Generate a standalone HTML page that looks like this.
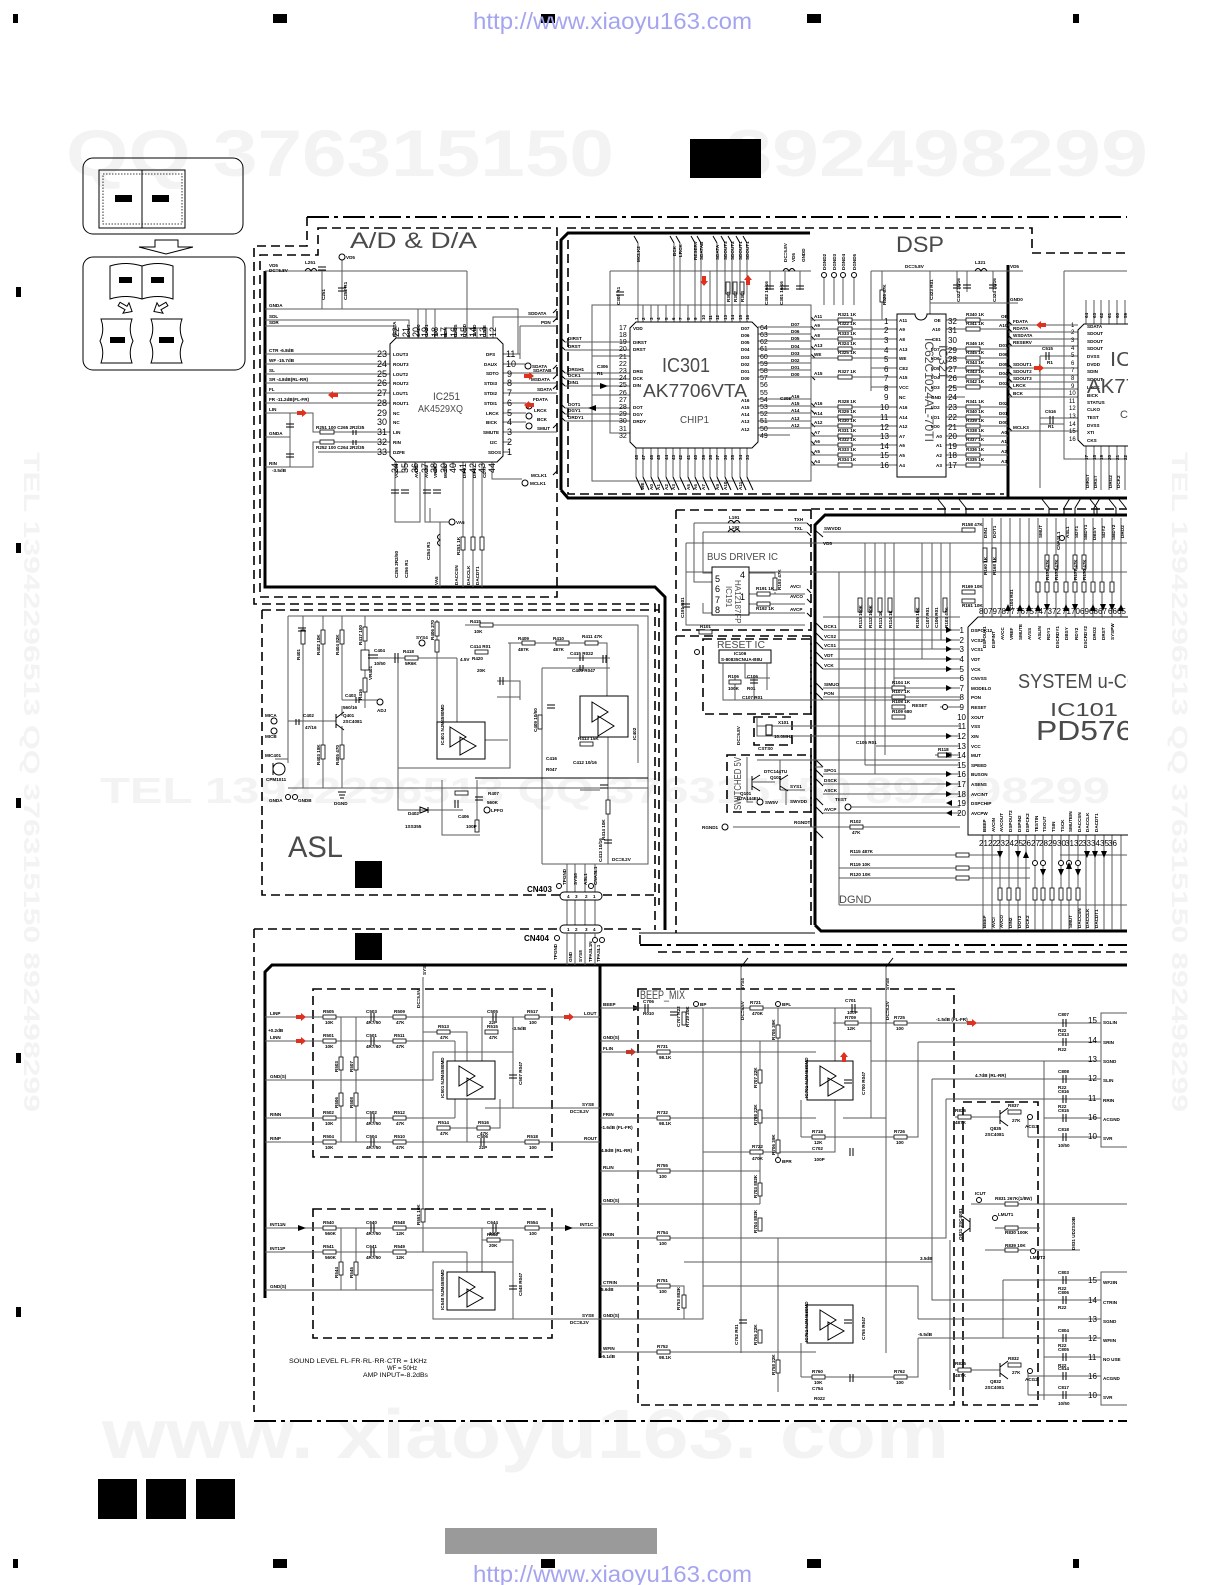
<!DOCTYPE html>
<html><head><meta charset="utf-8"><title>Schematic</title>
<style>
html,body{margin:0;padding:0;background:#fff;}
svg{display:block;}
.w{stroke:#5a5a5a;stroke-width:1;fill:none}
.k{stroke:#000;stroke-width:1;fill:none}
.kf{stroke:#000;stroke-width:1;fill:#fff}
.t{stroke:#000;stroke-width:3;fill:none}
.d{stroke:#000;stroke-width:1.6;fill:none;stroke-dasharray:9 5}
.dd{stroke:#000;stroke-width:2;fill:none;stroke-dasharray:22 5 4 5}
.r{fill:#fff;stroke:#000;stroke-width:.8}
.s{font-family:"Liberation Sans",sans-serif;font-size:4.6px;font-weight:bold;fill:#000}
.m{font-family:"Liberation Sans",sans-serif;font-size:6px;fill:#000}
.n{font-family:"Liberation Sans",sans-serif;font-size:9px;fill:#000}
.nb{font-family:"Liberation Sans",sans-serif;font-size:7px;fill:#000}
.T{font-family:"Liberation Sans",sans-serif;fill:#4a4a4a}
.wm{font-family:"Liberation Sans",sans-serif;font-weight:bold;fill:#f3f3f3}
.ra{fill:#e0301e}
.bk{fill:#000}
</style></head><body>
<svg width="1225" height="1585" viewBox="0 0 1225 1585">
<defs><clipPath id="c"><rect x="0" y="0" width="1128" height="1585"/></clipPath></defs>
<rect x="0" y="0" width="1225" height="1585" fill="#fff"/>

<!-- faint watermarks -->
<text class="wm" x="66" y="176" font-size="66" textLength="548" lengthAdjust="spacingAndGlyphs">QQ 376315150</text>
<text class="wm" x="725" y="176" font-size="66" textLength="423" lengthAdjust="spacingAndGlyphs">892498299</text>
<text class="wm" x="102" y="1458" font-size="70" textLength="847" lengthAdjust="spacingAndGlyphs">www. xiaoyu163. com</text>
<text class="wm" x="100" y="803" font-size="36" textLength="1010" lengthAdjust="spacingAndGlyphs">TEL 13942296513  QQ 376315150  892498299</text>
<text class="wm" transform="translate(1172,452) rotate(90)" font-size="22" textLength="660" lengthAdjust="spacingAndGlyphs">TEL 13942296513 QQ 376315150 892498299</text>
<text class="wm" transform="translate(24,452) rotate(90)" font-size="22" textLength="660" lengthAdjust="spacingAndGlyphs">TEL 13942296513 QQ 376315150 892498299</text>

<!-- registration marks -->
<g class="bk">
<rect x="13" y="14" width="5" height="9"/><rect x="273" y="14" width="14" height="9"/><rect x="541" y="14" width="14" height="9"/><rect x="807" y="14" width="14" height="9"/><rect x="1073" y="14" width="6" height="9"/>
<rect x="13" y="1559" width="5" height="9"/><rect x="273" y="1559" width="14" height="9"/><rect x="541" y="1559" width="14" height="9"/><rect x="807" y="1559" width="14" height="9"/><rect x="1073" y="1559" width="6" height="9"/>
<rect x="16" y="287" width="5" height="10"/><rect x="16" y="543" width="5" height="10"/><rect x="16" y="798" width="5" height="10"/><rect x="16" y="1053" width="5" height="10"/><rect x="16" y="1307" width="5" height="10"/>
<rect x="690" y="139" width="71" height="39"/>
<rect x="98" y="1479" width="39" height="40"/><rect x="146" y="1479" width="40" height="40"/><rect x="196" y="1479" width="39" height="40"/>
<rect x="355" y="861" width="27" height="27"/>
<rect x="355" y="933" width="27" height="27"/>
</g>
<rect x="445" y="1528" width="212" height="26" fill="#9a9a9a"/>
<text x="473" y="29" font-family="Liberation Sans,sans-serif" font-size="23" fill="#a4a4f0" textLength="279" lengthAdjust="spacingAndGlyphs">http://www.xiaoyu163.com</text>
<text x="473" y="1582" font-family="Liberation Sans,sans-serif" font-size="23" fill="#a4a4f0" textLength="279" lengthAdjust="spacingAndGlyphs">http://www.xiaoyu163.com</text>

<!-- key diagram -->
<rect x="83" y="158" width="160" height="76" rx="10" class="k" stroke-width="3"/>
<rect x="99" y="170" width="86" height="58" class="k"/>
<path class="k" d="M142,170V228"/>
<rect x="103" y="174" width="79" height="50" fill="none" stroke="#000" stroke-width=".8" stroke-dasharray="1.5 1.5"/>
<rect x="115" y="195" width="17" height="7" class="bk"/><rect x="152" y="195" width="17" height="7" class="bk"/>
<path class="kf" d="M155,240H178V247H193L166,254L139,247H155Z"/>
<rect x="83" y="257" width="162" height="113" rx="10" class="k" stroke-width="3"/>
<path class="kf" d="M110,266Q126,261 142,266Q158,261 173,266V299Q158,294 142,299Q126,294 110,299Z"/>
<path class="k" d="M142,266V299"/>
<rect x="119" y="277" width="13" height="6" class="bk"/><rect x="151" y="277" width="13" height="6" class="bk"/>
<path class="kf" d="M118,306L126,306L126,302L133,308L126,314L126,310L118,310Z" transform="rotate(30 126 308)"/>
<path class="kf" d="M152,306L160,306L160,302L167,308L160,314L160,310L152,310Z" transform="rotate(150 160 308)"/>
<path class="kf" d="M101,319H132Q128,330 133,341Q128,352 132,363H101Q105,352 100,341Q105,330 101,319Z"/>
<path class="kf" d="M151,319H182Q178,330 183,341Q178,352 182,363H151Q155,352 150,341Q155,330 151,319Z"/>
<rect x="110" y="337" width="15" height="6" class="bk"/><rect x="159" y="337" width="15" height="6" class="bk"/>

<g clip-path="url(#c)">
<!-- ============ main borders ============ -->
<path class="dd" d="M307,217H1127"/>
<path class="d" d="M307,217V246H254V604H655V930 M659,604V905"/>
<path class="d" d="M318,228H557V597H260V255H318Z"/>
<path class="t" d="M265,271V587H655L665,597V930"/>
<path class="d" d="M262,610H659 M262,610V895H560 M603,895H659"/>
<path class="d" d="M254,929H640V945 M254,929V1412"/>
<path class="dd" d="M640,945H1127"/>
<path class="d" d="M658,952H1127"/>
<path class="k" d="M639,933H815"/>
<path class="t" d="M265,1298V972L272,965H1127 M600,965V1358"/>
<path class="dd" d="M254,1421H1127"/>
<!-- DSP frame -->
<path class="t" d="M561,490V240L568,233H810 M561,490L568,498H1127 M1008,265V498"/>
<path class="d" d="M567,228H1032V253H1127 M568,240V494H1004"/>
<path class="d" d="M811,509H1127"/>
<!-- system frame -->
<path class="t" d="M815,925V525L825,515H1127 M815,925L821,931H1127"/>
<path class="d" d="M811,510V930 M676,510H811 M676,510V630H811 M676,636H811 M676,636V933"/>
<path class="d" d="M703,639H811V714H703Z M727,755H811V812H727Z"/>
<path class="d" d="M754,717H792V745H754Z" stroke-width="1"/>
<!-- bottom dashed boxes -->
<path class="d" d="M313,989H552V1157H313Z M313,1209H552V1338H313Z M638,989H954V1405H638Z M963,1102H1038V1405H963Z"/>

<!-- bus taps between sections -->
<path class="k" d="M553,369L557,365 M553,379L557,375 M553,389L557,385 M553,428L557,424 M553,313L557,309 M553,322L557,318 M553,475L557,471 M561,338L565,342 M561,346L565,350 M561,369L565,373 M561,375L565,379 M561,382L565,386 M561,404L565,408 M561,410L565,414 M561,417L565,421 M1008,321L1012,325 M1008,328L1012,332 M1008,335L1012,339 M1008,342L1012,346 M1008,364L1012,368 M1008,371L1012,375 M1008,378L1012,382 M1008,385L1012,389 M1008,392L1012,397 M1008,427L1012,431 M811,317L815,321 M811,326L815,330 M811,336L815,340 M811,346L815,350 M811,354L815,358 M811,376L815,380 M811,403L815,407 M811,410L815,414 M811,423L815,427 M811,432L815,436 M811,441L815,445 M811,451L815,455 M811,461L815,465"/>
<path class="k" d="M937,498L945,508V515 M958,498L966,508V515 M1041,498L1049,508V515 M1089,498L1097,508V515 M1108,498L1116,508V515 M1118,498L1126,508 M1070,498L1064,508V515 M1081,498L1075,508V515 M1100,498L1094,508V515 M815,530L823,537 M815,622L823,630 M815,632L823,640 M815,641L823,649 M815,651L823,659 M815,661L823,669 M815,682L823,690 M815,692L823,700 M815,759L823,767 M815,769L823,777 M815,778L823,786 M815,797L823,805 M815,806L823,814 M815,830L823,838 M807,523L811,527 M807,532L811,536 M807,589L811,593 M807,599L811,603 M807,613L811,617"/>

<!-- ============ A/D & D/A ============ -->
<text class="T" x="350" y="248" font-size="22" textLength="127" lengthAdjust="spacingAndGlyphs">A/D &amp; D/A</text>
<path class="w" d="M265,271H467 M322,271V309 M342,260V309 M265,309H518V354 M265,320H409V338 M265,326H396V338 M418,338V309 M426,338V309 M435,338V309 M445,338V328H487V338 M455,328V338 M467,338V271 M477,328V338 M493,338V317H557 M520,326H557 M520,326V359 M265,354H390 M265,364H390 M265,374H390 M265,383H390 M265,393H390 M265,403H390 M265,413H313V432H390 M290,413V467 M265,437H290 M265,467H313V442H390 M318,452H390 M503,354H520 M503,364H525 M503,373H557 M503,383H557 M503,393H557 M503,403H526 M503,413H526 M503,422H526 M503,432H557 M503,442H510 M503,452H510 M395,462V522H420V472 M405,462V472H395 M415,462V472 M425,462V522H449 M434,462V472 M444,462V472 M453,462V468 M463,462V587 M473,462V587 M482,462V587 M492,462V479H522 M440,522V587 M430,522V508"/>
<path class="kf" d="M396,338H497L503,344V456L497,462H396L390,456V344Z"/>
<g class="k"><path d="M305,271q3,-5 6,0q3,-5 6,0"/><path d="M318,267H326M318,270H326M338,288H346M338,291H346M286,424H294M286,427H294M286,454H294M286,457H294M391,490H399M391,493H399M401,490H409M401,493H409M423,490H431M423,493H431M433,490H441M433,493H441M353,430V435M356,430V435M353,440V445M356,440V445"/></g>
<rect class="r" x="320" y="430" width="14" height="4"/><rect class="r" x="320" y="440" width="14" height="4"/>
<rect class="r" x="461" y="537" width="4" height="13"/><rect class="r" x="471" y="537" width="4" height="13"/><rect class="r" x="480" y="537" width="4" height="13"/>
<path class="k" d="M440,534q-5,3 0,6q-5,3 0,6"/>
<circle cx="342" cy="257" r="3" class="kf"/><circle cx="452" cy="522" r="3" class="kf"/><circle cx="528" cy="366" r="3" class="kf"/><circle cx="529" cy="406" r="3" class="kf"/><circle cx="529" cy="416" r="3" class="kf"/><circle cx="529" cy="426" r="3" class="kf"/><circle cx="525" cy="483" r="3" class="kf"/>
<path class="ra" d="M-6,-2H-1V-4L4,0L-1,4V2H-6Z" transform="translate(303,413)"/>
<path class="ra" d="M-6,-2H-1V-4L4,0L-1,4V2H-6Z" transform="translate(332,395) rotate(180)"/>
<path class="ra" d="M-6,-2H-1V-4L4,0L-1,4V2H-6Z" transform="translate(530,376)"/>
<path class="ra" d="M-6,-2H-1V-4L4,0L-1,4V2H-6Z" transform="translate(528,405) rotate(180)"/>
<g class="s">
<text x="269" y="267">VD5</text><text x="269" y="272">DC=5.8V</text><text x="305" y="264">L251</text><text x="346" y="259">VD5</text>
<text x="269" y="307">GNDA</text><text x="269" y="318">SDL</text><text x="269" y="324">SDR</text>
<text x="269" y="352">CTR  -6.8dB</text><text x="269" y="362">WF  -15.7dB</text><text x="269" y="372">SL</text><text x="269" y="381">SR   -4.8dB(RL-RR)</text><text x="269" y="391">FL</text><text x="269" y="401">FR   -11.2dB(FL-FR)</text><text x="269" y="411">LIN</text><text x="269" y="435">GNDA</text><text x="269" y="465">RIN</text><text x="272" y="472">-3.5dB</text>
<text x="316" y="429">R251 100  C265 2R2/35</text><text x="316" y="449">R252 100  C264 2R2/35</text>
<text x="528" y="315">SDDATA</text><text x="541" y="324">PDN</text><text x="532" y="368">SDATA</text><text x="533" y="372">SDATAB</text><text x="531" y="381">MSDATA</text><text x="537" y="391">SDATA</text><text x="533" y="401">FDATA</text><text x="534" y="412">LRCK</text><text x="537" y="421">BCK</text><text x="537" y="430">SMUT</text><text x="531" y="477">MCLK1</text><text x="530" y="485">MCLK1</text><text x="456" y="524">VA5</text>
<text x="393" y="356">LOUT3</text><text x="393" y="366">ROUT3</text><text x="393" y="376">LOUT2</text><text x="393" y="385">ROUT2</text><text x="393" y="395">LOUT1</text><text x="393" y="405">ROUT1</text><text x="393" y="415">NC</text><text x="393" y="424">NC</text><text x="393" y="434">LIN</text><text x="393" y="444">RIN</text><text x="393" y="454">DZFE</text>
<text x="486" y="356">DFS</text><text x="484" y="366">DAUX</text><text x="486" y="375">SDTO</text><text x="484" y="385">STDI3</text><text x="484" y="395">STDI2</text><text x="484" y="405">STDI1</text><text x="486" y="415">LRCK</text><text x="486" y="424">BICK</text><text x="483" y="434">SMUTE</text><text x="490" y="444">I2C</text><text x="488" y="454">SDOS</text>
</g>
<g class="s">
<text transform="translate(398,578) rotate(-90)">C255 2R2/50</text><text transform="translate(408,578) rotate(-90)">C256 R1</text><text transform="translate(430,560) rotate(-90)">C254 R1</text><text transform="translate(438,585) rotate(-90)">VA5</text><text transform="translate(458,585) rotate(-90)">DACCSN</text><text transform="translate(470,585) rotate(-90)">DACCLK</text><text transform="translate(479,585) rotate(-90)">DACDT1</text><text transform="translate(460,555) rotate(-90)">R251 1K</text><text transform="translate(325,300) rotate(-90)">C251</text><text transform="translate(347,300) rotate(-90)">C252 R1</text>
<text transform="translate(396,337) rotate(-90)">RDATA</text><text transform="translate(410,337) rotate(-90)">LOUT</text><text transform="translate(420,337) rotate(-90)">CAD0</text><text transform="translate(428,337) rotate(-90)">CAD1</text><text transform="translate(437,337) rotate(-90)">TST</text><text transform="translate(447,337) rotate(-90)">PDN</text><text transform="translate(457,337) rotate(-90)">DVSS</text><text transform="translate(466,337) rotate(-90)">DVDD</text><text transform="translate(476,337) rotate(-90)">TVDD</text><text transform="translate(486,337) rotate(-90)">DZFE</text>
<text transform="translate(398,478) rotate(-90)">VCOM</text><text transform="translate(418,478) rotate(-90)">AVDD</text><text transform="translate(428,478) rotate(-90)">AVSS</text><text transform="translate(437,478) rotate(-90)">VREF</text><text transform="translate(447,478) rotate(-90)">MCLK</text><text transform="translate(466,478) rotate(-90)">DIF0</text><text transform="translate(476,478) rotate(-90)">DIF1</text><text transform="translate(486,478) rotate(-90)">CDTI</text>
</g>
<g class="n">
<text x="377" y="357">23</text><text x="377" y="367">24</text><text x="377" y="377">25</text><text x="377" y="386">26</text><text x="377" y="396">27</text><text x="377" y="406">28</text><text x="377" y="416">29</text><text x="377" y="425">30</text><text x="377" y="435">31</text><text x="377" y="445">32</text><text x="377" y="455">33</text>
<text x="506" y="357">11</text><text x="506" y="367">10</text><text x="507" y="377">9</text><text x="507" y="386">8</text><text x="507" y="396">7</text><text x="507" y="406">6</text><text x="507" y="416">5</text><text x="507" y="425">4</text><text x="507" y="435">3</text><text x="507" y="445">2</text><text x="507" y="455">1</text>
<text transform="translate(399,337) rotate(-90)">22</text><text transform="translate(409,337) rotate(-90)">21</text><text transform="translate(419,337) rotate(-90)">20</text><text transform="translate(428,337) rotate(-90)">19</text><text transform="translate(438,337) rotate(-90)">18</text><text transform="translate(447,337) rotate(-90)">17</text><text transform="translate(457,337) rotate(-90)">16</text><text transform="translate(467,337) rotate(-90)">15</text><text transform="translate(476,337) rotate(-90)">14</text><text transform="translate(486,337) rotate(-90)">13</text><text transform="translate(496,337) rotate(-90)">12</text>
<text transform="translate(398,473) rotate(-90)">34</text><text transform="translate(408,473) rotate(-90)">35</text><text transform="translate(418,473) rotate(-90)">36</text><text transform="translate(428,473) rotate(-90)">37</text><text transform="translate(437,473) rotate(-90)">38</text><text transform="translate(447,473) rotate(-90)">39</text><text transform="translate(456,473) rotate(-90)">40</text><text transform="translate(466,473) rotate(-90)">41</text><text transform="translate(476,473) rotate(-90)">42</text><text transform="translate(485,473) rotate(-90)">43</text><text transform="translate(495,473) rotate(-90)">44</text>
</g>
<text class="T" x="433" y="400" font-size="11" textLength="27" lengthAdjust="spacingAndGlyphs">IC251</text>
<text class="T" x="418" y="412" font-size="10" textLength="45" lengthAdjust="spacingAndGlyphs">AK4529XQ</text>

<!-- ============ DSP ============ -->
<text class="T" x="896" y="252" font-size="22" textLength="48" lengthAdjust="spacingAndGlyphs">DSP</text>
<path class="w" d="M592,305H811V481H592Z M610,271H811 M610,271V433H630 M638,322V243 M674,322V243 M680,322V243 M695,322V243 M701,322V243 M717,322V243 M725,322V243 M732,322V243 M740,322V243 M747,322V243 M643,322V305 M651,322V305 M658,322V305 M666,322V305 M688,322V305 M710,322V271 M565,342H630 M565,350H630 M565,373H630 M565,379H630 M565,386H630 M565,408H630 M565,414H630 M565,421H630 M592,356H630 M592,395H630 M758,327H811 M758,334H811 M758,341H811 M758,349H811 M758,356H811 M758,363H811 M758,370H811 M758,377H811 M758,399H811 M758,406H811 M758,413H811 M758,421H811 M758,428H811 M758,435H790 M636,448V477 M643,448V477 M651,448V477 M658,448V477 M666,448V477 M673,448V477 M680,448V477 M688,448V477 M695,448V477 M703,448V477 M710,448V477 M717,448V477 M725,448V477 M732,448V477 M740,448V477 M747,448V477 M824,278V305 M834,278V305 M843,278V305 M854,278V305 M770,271V290 M785,271V290 M800,271V290"/>
<path class="k" d="M636,477L642,490 M643,477L649,490 M651,477L657,490 M658,477L664,490 M666,477L672,490 M673,477L679,490 M680,477L686,490 M688,477L694,490 M695,477L701,490 M703,477L709,490 M710,477L716,490 M717,477L723,490 M725,477L731,490 M732,477L738,490 M740,477L746,490 M747,477L753,490 M638,243L634,236 M674,243L670,236 M680,243L676,236 M695,243L691,236 M701,243L697,236 M717,243L713,236 M725,243L721,236 M732,243L728,236 M740,243L736,236 M747,243L743,236 M766,286H774M766,289H774 M781,286H789M781,289H789 M796,286H804M796,289H804 M616,292H624M616,295H624"/>
<path class="k" d="M783,271q3,-5 6,0q3,-5 6,0"/>
<rect class="r" x="726" y="282" width="4" height="12"/><rect class="r" x="733" y="282" width="4" height="12"/><rect class="r" x="740" y="282" width="4" height="12"/>
<circle cx="824" cy="275" r="2.5" class="kf"/><circle cx="834" cy="275" r="2.5" class="kf"/><circle cx="843" cy="275" r="2.5" class="kf"/><circle cx="854" cy="275" r="2.5" class="kf"/>
<path class="kf" d="M636,322H752L758,328V442L752,448H636L630,442V328Z"/>
<path class="bk" d="M600,383L608,386L600,389Z M596,405L588,408L596,411Z"/>
<path class="ra" d="M-6,-2H-1V-4L4,0L-1,4V2H-6Z" transform="translate(704,282) rotate(90)"/>
<path class="ra" d="M-6,-2H-1V-4L4,0L-1,4V2H-6Z" transform="translate(748,279) rotate(-90)"/>
<text class="T" x="662" y="372" font-size="20" textLength="48" lengthAdjust="spacingAndGlyphs">IC301</text>
<text class="T" x="643" y="397" font-size="18" textLength="104" lengthAdjust="spacingAndGlyphs">AK7706VTA</text>
<text class="T" x="680" y="423" font-size="10" textLength="29" lengthAdjust="spacingAndGlyphs">CHIP1</text>
<g class="nb">
<text x="619" y="330">17</text><text x="619" y="337">18</text><text x="619" y="344">19</text><text x="619" y="351">20</text><text x="619" y="359">21</text><text x="619" y="366">22</text><text x="619" y="373">23</text><text x="619" y="380">24</text><text x="619" y="387">25</text><text x="619" y="395">26</text><text x="619" y="402">27</text><text x="619" y="409">28</text><text x="619" y="416">29</text><text x="619" y="423">30</text><text x="619" y="431">31</text><text x="619" y="438">32</text>
<text x="760" y="330">64</text><text x="760" y="337">63</text><text x="760" y="344">62</text><text x="760" y="351">61</text><text x="760" y="359">60</text><text x="760" y="366">59</text><text x="760" y="373">58</text><text x="760" y="380">57</text><text x="760" y="387">56</text><text x="760" y="395">55</text><text x="760" y="402">54</text><text x="760" y="409">53</text><text x="760" y="416">52</text><text x="760" y="423">51</text><text x="760" y="431">50</text><text x="760" y="438">49</text>
</g>
<g class="s">
<text transform="translate(638,320) rotate(-90)">1</text><text transform="translate(645,320) rotate(-90)">2</text><text transform="translate(653,320) rotate(-90)">3</text><text transform="translate(660,320) rotate(-90)">4</text><text transform="translate(668,320) rotate(-90)">5</text><text transform="translate(675,320) rotate(-90)">6</text><text transform="translate(682,320) rotate(-90)">7</text><text transform="translate(690,320) rotate(-90)">8</text><text transform="translate(697,320) rotate(-90)">9</text><text transform="translate(705,320) rotate(-90)">10</text><text transform="translate(712,320) rotate(-90)">11</text><text transform="translate(719,320) rotate(-90)">12</text><text transform="translate(727,320) rotate(-90)">13</text><text transform="translate(734,320) rotate(-90)">14</text><text transform="translate(742,320) rotate(-90)">15</text><text transform="translate(749,320) rotate(-90)">16</text>
<text transform="translate(638,460) rotate(-90)">48</text><text transform="translate(645,460) rotate(-90)">47</text><text transform="translate(653,460) rotate(-90)">46</text><text transform="translate(660,460) rotate(-90)">45</text><text transform="translate(668,460) rotate(-90)">44</text><text transform="translate(675,460) rotate(-90)">43</text><text transform="translate(682,460) rotate(-90)">42</text><text transform="translate(690,460) rotate(-90)">41</text><text transform="translate(697,460) rotate(-90)">40</text><text transform="translate(705,460) rotate(-90)">39</text><text transform="translate(712,460) rotate(-90)">38</text><text transform="translate(719,460) rotate(-90)">37</text><text transform="translate(727,460) rotate(-90)">36</text><text transform="translate(734,460) rotate(-90)">35</text><text transform="translate(742,460) rotate(-90)">34</text><text transform="translate(749,460) rotate(-90)">33</text>
<text transform="translate(640,262) rotate(-90)">MCLK2</text><text transform="translate(676,256) rotate(-90)">BCK</text><text transform="translate(682,257) rotate(-90)">LRCK</text><text transform="translate(697,260) rotate(-90)">RESERV</text><text transform="translate(703,260) rotate(-90)">SDATAB</text><text transform="translate(719,260) rotate(-90)">SDATA</text><text transform="translate(727,260) rotate(-90)">SDOUT3</text><text transform="translate(734,260) rotate(-90)">SDOUT2</text><text transform="translate(742,260) rotate(-90)">SDOUT1</text><text transform="translate(749,260) rotate(-90)">SDOUT1</text>
<text transform="translate(787,262) rotate(-90)">DC=5.8V</text><text transform="translate(795,262) rotate(-90)">VD5</text><text transform="translate(805,262) rotate(-90)">GNDD</text>
<text transform="translate(826,270) rotate(-90)">DGND2</text><text transform="translate(836,270) rotate(-90)">DGND3</text><text transform="translate(845,270) rotate(-90)">DGND4</text><text transform="translate(856,270) rotate(-90)">DGND5</text>
<text transform="translate(730,302) rotate(-90)">R301</text><text transform="translate(737,302) rotate(-90)">R302</text><text transform="translate(744,302) rotate(-90)">R303</text><text transform="translate(768,305) rotate(-90)">C302 10/16</text><text transform="translate(783,305) rotate(-90)">C301 10/16</text><text transform="translate(620,305) rotate(-90)">C305 R1</text>
<text transform="translate(644,490) rotate(-90)">WE</text><text transform="translate(653,490) rotate(-90)">A0</text><text transform="translate(660,490) rotate(-90)">A1</text><text transform="translate(668,490) rotate(-90)">A2</text><text transform="translate(675,490) rotate(-90)">A3</text><text transform="translate(690,490) rotate(-90)">A5</text><text transform="translate(697,490) rotate(-90)">A6</text><text transform="translate(705,490) rotate(-90)">A7</text><text transform="translate(719,490) rotate(-90)">A9</text><text transform="translate(727,490) rotate(-90)">A10</text><text transform="translate(742,490) rotate(-90)">A11</text>
<text x="568" y="340">DIRST</text><text x="568" y="348">DRST</text><text x="568" y="371">DRGH1</text><text x="568" y="377">DCK1</text><text x="568" y="384">DIN1</text><text x="568" y="406">DOT1</text><text x="568" y="412">DGY1</text><text x="568" y="419">DRDY1</text><text x="597" y="368">C306</text><text x="597" y="375">R1</text><text x="780" y="400">C308</text>
<text x="633" y="330">VDD</text><text x="633" y="344">DIRST</text><text x="633" y="351">DRST</text><text x="633" y="373">DRG</text><text x="633" y="380">DCK</text><text x="633" y="387">DIN</text><text x="633" y="409">DOT</text><text x="633" y="416">DGY</text><text x="633" y="423">DRDY</text>
<text x="741" y="330">D07</text><text x="741" y="337">D06</text><text x="741" y="344">D05</text><text x="741" y="351">D04</text><text x="741" y="359">D03</text><text x="741" y="366">D02</text><text x="741" y="373">D01</text><text x="741" y="380">D00</text><text x="741" y="402">A16</text><text x="741" y="409">A15</text><text x="741" y="416">A14</text><text x="741" y="423">A13</text><text x="741" y="431">A12</text>
<text x="791" y="326">D07</text><text x="791" y="333">D06</text><text x="791" y="340">D05</text><text x="791" y="348">D04</text><text x="791" y="355">D03</text><text x="791" y="362">D02</text><text x="791" y="369">D01</text><text x="791" y="376">D00</text><text x="791" y="398">A16</text><text x="791" y="405">A15</text><text x="791" y="412">A14</text><text x="791" y="420">A13</text><text x="791" y="427">A12</text>
</g>
<!-- IC321 -->
<path class="w" d="M811,320H897 M811,329H897 M811,339H897 M811,349H897 M811,358H897 M871,368H897 M811,377H897 M871,387H897 M811,407H897 M811,417H897 M811,426H897 M811,436H897 M811,445H897 M811,455H897 M811,465H897 M871,271V391 M882,271V320 M946,320H1008 M946,329H1008 M946,339H930V271 M946,349H1008 M946,358H1008 M946,368H1008 M946,377H1008 M946,387H1008 M946,397H965 M946,407H1008 M946,417H1008 M946,426H1008 M946,436H1008 M946,445H1008 M946,455H1008 M946,465H1008 M871,271H1023 M957,271V292 M967,271V292 M993,271V292 M930,303H1018"/>
<path class="k" d="M975,271q3,-5 6,0q3,-5 6,0 M953,285H961M953,288H961M963,285H971M963,288H971M989,285H997M989,288H997"/>
<g>
<rect class="r" x="838" y="318" width="14" height="4"/><rect class="r" x="838" y="327" width="14" height="4"/><rect class="r" x="838" y="337" width="14" height="4"/><rect class="r" x="838" y="347" width="14" height="4"/><rect class="r" x="838" y="356" width="14" height="4"/><rect class="r" x="838" y="375" width="14" height="4"/><rect class="r" x="838" y="405" width="14" height="4"/><rect class="r" x="838" y="415" width="14" height="4"/><rect class="r" x="838" y="424" width="14" height="4"/><rect class="r" x="838" y="434" width="14" height="4"/><rect class="r" x="838" y="443" width="14" height="4"/><rect class="r" x="838" y="453" width="14" height="4"/><rect class="r" x="838" y="463" width="14" height="4"/>
<rect class="r" x="966" y="318" width="14" height="4"/><rect class="r" x="966" y="327" width="14" height="4"/><rect class="r" x="966" y="347" width="14" height="4"/><rect class="r" x="966" y="356" width="14" height="4"/><rect class="r" x="966" y="366" width="14" height="4"/><rect class="r" x="966" y="375" width="14" height="4"/><rect class="r" x="966" y="385" width="14" height="4"/><rect class="r" x="966" y="405" width="14" height="4"/><rect class="r" x="966" y="415" width="14" height="4"/><rect class="r" x="966" y="424" width="14" height="4"/><rect class="r" x="966" y="434" width="14" height="4"/><rect class="r" x="966" y="443" width="14" height="4"/><rect class="r" x="966" y="453" width="14" height="4"/><rect class="r" x="966" y="463" width="14" height="4"/>
<rect class="r" x="880" y="290" width="4" height="12"/>
</g>
<path class="kf" d="M897,314H915A6,6 0 0 0 927,314H946V477H897Z"/>
<text class="T" transform="translate(925,338) rotate(90)" font-size="12" textLength="104" lengthAdjust="spacingAndGlyphs">IC62C1024AL-70TI</text>
<text class="T" transform="translate(939,345) rotate(90)" font-size="12" textLength="34" lengthAdjust="spacingAndGlyphs">IC321</text>
<g class="n">
<text x="884" y="324" font-size="8">1</text><text x="884" y="333" font-size="8">2</text><text x="884" y="343" font-size="8">3</text><text x="884" y="353" font-size="8">4</text><text x="884" y="362" font-size="8">5</text><text x="884" y="372" font-size="8">6</text><text x="884" y="381" font-size="8">7</text><text x="884" y="391" font-size="8">8</text><text x="884" y="400" font-size="8">9</text><text x="880" y="410" font-size="8">10</text><text x="880" y="420" font-size="8">11</text><text x="880" y="430" font-size="8">12</text><text x="880" y="439" font-size="8">13</text><text x="880" y="449" font-size="8">14</text><text x="880" y="458" font-size="8">15</text><text x="880" y="468" font-size="8">16</text>
<text x="948" y="324" font-size="8">32</text><text x="948" y="333" font-size="8">31</text><text x="948" y="343" font-size="8">30</text><text x="948" y="353" font-size="8">29</text><text x="948" y="362" font-size="8">28</text><text x="948" y="372" font-size="8">27</text><text x="948" y="381" font-size="8">26</text><text x="948" y="391" font-size="8">25</text><text x="948" y="400" font-size="8">24</text><text x="948" y="410" font-size="8">23</text><text x="948" y="420" font-size="8">22</text><text x="948" y="430" font-size="8">21</text><text x="948" y="439" font-size="8">20</text><text x="948" y="449" font-size="8">19</text><text x="948" y="458" font-size="8">18</text><text x="948" y="468" font-size="8">17</text>
</g>
<g class="s">
<text x="814" y="318">A11</text><text x="814" y="327">A9</text><text x="814" y="337">A8</text><text x="814" y="347">A13</text><text x="814" y="356">WE</text><text x="814" y="375">A15</text><text x="814" y="405">A16</text><text x="814" y="415">A14</text><text x="814" y="424">A12</text><text x="814" y="434">A7</text><text x="814" y="443">A6</text><text x="814" y="453">A5</text><text x="814" y="463">A4</text>
<text x="838" y="316">R321 1K</text><text x="838" y="325">R322 1K</text><text x="838" y="335">R333 1K</text><text x="838" y="345">R324 1K</text><text x="838" y="354">R325 1K</text><text x="838" y="373">R327 1K</text><text x="838" y="403">R328 1K</text><text x="838" y="413">R329 1K</text><text x="838" y="422">R330 1K</text><text x="838" y="432">R331 1K</text><text x="838" y="441">R332 1K</text><text x="838" y="451">R333 1K</text><text x="838" y="461">R334 1K</text>
<text x="899" y="322">A11</text><text x="899" y="331">A9</text><text x="899" y="341">A8</text><text x="899" y="351">A13</text><text x="899" y="360">WE</text><text x="899" y="370">CE2</text><text x="899" y="379">A15</text><text x="899" y="389">VCC</text><text x="899" y="399">NC</text><text x="899" y="409">A16</text><text x="899" y="419">A14</text><text x="899" y="428">A12</text><text x="899" y="438">A7</text><text x="899" y="447">A6</text><text x="899" y="457">A5</text><text x="899" y="467">A4</text>
<text x="934" y="322">OE</text><text x="932" y="331">A10</text><text x="932" y="341">CE1</text><text x="931" y="351">I/O7</text><text x="931" y="360">I/O6</text><text x="931" y="370">I/O5</text><text x="931" y="379">I/O4</text><text x="931" y="389">I/O3</text><text x="931" y="399">GND</text><text x="931" y="409">I/O2</text><text x="931" y="419">I/O1</text><text x="931" y="428">I/O0</text><text x="936" y="438">A0</text><text x="936" y="447">A1</text><text x="936" y="457">A2</text><text x="936" y="467">A3</text>
<text x="1001" y="318">OE</text><text x="999" y="327">A10</text><text x="999" y="347">D07</text><text x="999" y="356">D06</text><text x="999" y="366">D05</text><text x="999" y="375">D04</text><text x="999" y="385">D03</text><text x="999" y="405">D02</text><text x="999" y="415">D01</text><text x="999" y="424">D00</text><text x="1001" y="434">A0</text><text x="1001" y="443">A1</text><text x="1001" y="453">A2</text><text x="1001" y="463">A3</text>
<text x="966" y="316">R340 1K</text><text x="966" y="325">R341 1K</text><text x="966" y="345">R346 1K</text><text x="966" y="354">R345 1K</text><text x="966" y="364">R344 1K</text><text x="966" y="373">R343 1K</text><text x="966" y="383">R342 1K</text><text x="966" y="403">R341 1K</text><text x="966" y="413">R340 1K</text><text x="966" y="422">R339 1K</text><text x="966" y="432">R338 1K</text><text x="966" y="441">R337 1K</text><text x="966" y="451">R336 1K</text><text x="966" y="461">R335 1K</text>
<text x="905" y="268">DC=5.8V</text><text x="975" y="264">L321</text><text x="1010" y="268">VD5</text><text x="1010" y="301">GND0</text>
<text transform="translate(886,305) rotate(-90)">R326 47K</text><text transform="translate(933,300) rotate(-90)">C323 R01</text><text transform="translate(960,302) rotate(-90)">C322 10/16</text><text transform="translate(996,302) rotate(-90)">C324 10/16</text>
</g>
<!-- AK77xx IC (right, clipped) -->
<path class="w" d="M1064,271H1127 M1064,271V459H1127 M1040,356V488 M1008,325H1078 M1008,332H1078 M1008,339H1078 M1008,346H1078 M1008,368H1078 M1008,375H1078 M1008,382H1078 M1008,389H1078 M1008,397H1078 M1008,431H1078 M1040,356H1078 M1040,418H1078 M1040,424H1064 M1086,446V490 M1094,446V490 M1101,446V490 M1109,446V490 M1117,446V490 M1125,446V490 M1086,324V300 M1094,324V300 M1101,324V300 M1109,324V300 M1117,324V300 M1125,324V300"/>
<path class="kf" d="M1084,324H1130V446H1084L1078,440V330Z"/>
<path class="k" d="M1046,352V360M1049,352V360M1050,416V424M1053,416V424"/>
<path class="ra" d="M-6,-2H-1V-4L4,0L-1,4V2H-6Z" transform="translate(1040,325) rotate(180)"/>
<path class="ra" d="M-6,-2H-1V-4L4,0L-1,4V2H-6Z" transform="translate(1040,368)"/>
<g class="nb">
<text x="1071" y="327" font-size="6">1</text><text x="1071" y="334" font-size="6">2</text><text x="1071" y="342" font-size="6">3</text><text x="1071" y="350" font-size="6">4</text><text x="1071" y="357" font-size="6">5</text><text x="1071" y="365" font-size="6">6</text><text x="1071" y="372" font-size="6">7</text><text x="1071" y="380" font-size="6">8</text><text x="1071" y="388" font-size="6">9</text><text x="1069" y="395" font-size="6">10</text><text x="1069" y="403" font-size="6">11</text><text x="1069" y="410" font-size="6">12</text><text x="1069" y="418" font-size="6">13</text><text x="1069" y="426" font-size="6">14</text><text x="1069" y="433" font-size="6">15</text><text x="1069" y="441" font-size="6">16</text>
</g>
<g class="s">
<text x="1013" y="323">FDATA</text><text x="1013" y="330">RDATA</text><text x="1013" y="337">WSDATA</text><text x="1013" y="344">RESERV</text><text x="1013" y="366">SDOUT1</text><text x="1013" y="373">SDOUT2</text><text x="1013" y="380">SDOUT3</text><text x="1013" y="387">LRCK</text><text x="1013" y="395">BCK</text><text x="1013" y="429">MCLK3</text><text x="1042" y="350">C515</text><text x="1047" y="364">R1</text><text x="1045" y="413">C516</text><text x="1048" y="428">R1</text>
<text x="1087" y="328">SDATA</text><text x="1087" y="335">SDOUT</text><text x="1087" y="343">SDOUT</text><text x="1087" y="350">SDOUT</text><text x="1087" y="358">DVSS</text><text x="1087" y="366">DVDD</text><text x="1087" y="373">SDIN</text><text x="1087" y="381">SDOUT</text><text x="1087" y="389">LRCK</text><text x="1087" y="397">BICK</text><text x="1087" y="404">STATUS</text><text x="1087" y="411">CLKO</text><text x="1087" y="419">TEST</text><text x="1087" y="427">DVSS</text><text x="1087" y="434">XTI</text><text x="1087" y="442">CKS</text>
<text transform="translate(1089,488) rotate(-90)">DIRST</text><text transform="translate(1097,488) rotate(-90)">DRST</text><text transform="translate(1112,488) rotate(-90)">DRG2</text><text transform="translate(1120,488) rotate(-90)">DCK2</text>
<text transform="translate(1088,318) rotate(-90)">64</text><text transform="translate(1096,318) rotate(-90)">63</text><text transform="translate(1103,318) rotate(-90)">62</text><text transform="translate(1111,318) rotate(-90)">61</text><text transform="translate(1119,318) rotate(-90)">60</text><text transform="translate(1127,318) rotate(-90)">59</text>
<text transform="translate(1088,460) rotate(-90)">17</text><text transform="translate(1096,460) rotate(-90)">18</text><text transform="translate(1103,460) rotate(-90)">19</text><text transform="translate(1111,460) rotate(-90)">20</text><text transform="translate(1119,460) rotate(-90)">21</text><text transform="translate(1127,460) rotate(-90)">22</text>
</g>
<text class="T" x="1110" y="366" font-size="20" textLength="22" lengthAdjust="spacingAndGlyphs">IC</text>
<text class="T" x="1087" y="393" font-size="20" textLength="50" lengthAdjust="spacingAndGlyphs">AK77</text>
<text class="T" x="1120" y="418" font-size="11">CI</text>

<!-- ============ SYSTEM u-COM ============ -->
<!-- bus driver -->
<text class="T" x="707" y="560" font-size="10" textLength="71" lengthAdjust="spacingAndGlyphs">BUS DRIVER IC</text>
<path class="w" d="M694,523H807 M703,532H807 M694,523V582H712 M703,532V573H712 M686,543H1127 M686,543V625H805 M686,572H1127 M703,603V613H712 M703,613H805 M749,573H775V580 M749,594H805 M749,604H805 M775,592V594"/>
<path class="k" d="M728,523q3,-5 6,0q3,-5 6,0 M728,532q3,-5 6,0q3,-5 6,0 M682,604H690M682,607H690"/>
<rect class="kf" x="712" y="567" width="37" height="48"/>
<rect class="r" x="757" y="592" width="13" height="4"/><rect class="r" x="757" y="602" width="13" height="4"/><rect class="r" x="773" y="578" width="4" height="12"/>
<g class="n"><text x="715" y="582">5</text><text x="715" y="592">6</text><text x="715" y="603">7</text><text x="715" y="613">8</text><text x="740" y="578">4</text><text x="740" y="600">1</text></g>
<text class="T" transform="translate(726,586) rotate(90)" font-size="8">IC191</text>
<text class="T" transform="translate(735,580) rotate(90)" font-size="8">HA12187FP</text>
<g class="s"><text x="729" y="519">L191</text><text x="729" y="529">L192</text><text x="794" y="521">TXH</text><text x="794" y="530">TXL</text><text x="790" y="588">AVCI</text><text x="790" y="598">AVCO</text><text x="790" y="611">AVCP</text><text x="756" y="590">R191 1K</text><text x="756" y="610">R192 1K</text><text transform="translate(684,618) rotate(-90)">C191 R01</text><text transform="translate(781,590) rotate(-90)">R193 47K</text></g>
<!-- reset IC -->
<text class="T" x="717" y="648" font-size="10" textLength="48" lengthAdjust="spacingAndGlyphs">RESET IC</text>
<rect class="kf" x="719" y="650" width="52" height="13"/>
<text class="s" x="734" y="655">IC106</text><text class="s" x="721" y="661">S-80835CNUA-B8U</text>
<path class="w" d="M723,663V700H960 M745,663V678H770 M767,663V690 M735,678V700 M754,678V700 M757,717V736H960 M757,726H960"/>
<rect class="r" x="729" y="680" width="12" height="4"/><path class="k" d="M750,680H758M750,683H758"/>
<rect class="kf" x="766" y="725" width="6" height="10"/>
<g class="s"><text x="728" y="678">R106</text><text x="747" y="678">C106</text><text x="728" y="690">100K</text><text x="747" y="690">R01</text><text x="742" y="699">C107 R01</text><text x="778" y="724">X101</text><text x="774" y="738">10.0MHz</text><text x="758" y="750">CSTS0</text></g>
<!-- switched 5V -->
<text class="T" transform="translate(741,810) rotate(-90)" font-size="10" textLength="53" lengthAdjust="spacingAndGlyphs">SWITCHED 5V</text>
<path class="w" d="M747,757V802H753 M753,782H775 M780,775V760H811 M780,790H805 M786,790V805 M815,767H823 M757,802H760 M733,827H960 M848,807H960 M757,760H960"/>
<path class="k" d="M752,776V790 M752,780L760,775 M752,786L760,791 M780,776V790 M780,780L788,775 M780,786L788,791"/>
<circle cx="760" cy="802" r="3" class="kf"/><circle cx="848" cy="807" r="3" class="kf"/><circle cx="725" cy="827" r="3" class="kf"/>
<rect class="r" x="850" y="825" width="13" height="4"/>
<g class="s"><text x="764" y="773">DTC144TU</text><text x="770" y="779">Q102</text><text x="740" y="795">Q101</text><text x="737" y="800">DTA144EU</text><text x="765" y="804">SW5V</text><text x="790" y="788">SYS1</text><text x="835" y="801">TEST</text><text x="702" y="829">RGND1</text><text x="850" y="823">R102</text><text x="852" y="834">47K</text><text x="794" y="824">RGNDT</text><text x="790" y="803">SWVDD</text><text transform="translate(740,745) rotate(-90)">DC=5.8V</text></g>
<!-- IC101 lines -->
<path class="w" d="M823,532H972 M839,572V905 M865,543V765 M875,543V774 M885,543V755 M894,543V688 M922,543V659 M932,543V649 M941,543V640 M950,543V630
M823,630H960 M823,640H960 M823,649H960 M823,659H960 M823,669H960 M894,678H960 M823,688H960 M823,697H960 M940,707H960 M839,726H960 M876,746H960 M935,755H960 M865,765H960 M823,774H960 M823,784H960 M823,794H960 M823,813H960 M823,617H960
M983,617V518 M992,617V518 M1001,617V518 M1010,617V518 M1020,617V518 M1029,617V518 M1038,617V518 M1047,617V518 M1056,617V518 M1066,617V518 M1075,617V518 M1084,617V518 M1093,617V518 M1102,617V518 M1112,617V518 M1121,617V518
M983,835V930 M992,835V930 M1000,835V930 M1009,835V930 M1018,835V930 M1026,835V930 M1035,835V930 M1043,835V930 M1052,835V930 M1061,835V930 M1069,835V930 M1078,835V930 M1086,835V930 M1095,835V930 M1104,835V930 M1112,835V930 M1121,835V930
M850,855H1000 M839,868H1030 M839,878H1030 M839,905H1127 M1026,868V895 M1060,855H1127"/>
<g>
<rect class="r" x="858" y="598" width="4" height="14"/><rect class="r" x="868" y="598" width="4" height="14"/><rect class="r" x="878" y="598" width="4" height="14"/><rect class="r" x="888" y="598" width="4" height="14"/>
<rect class="r" x="915" y="598" width="4" height="14"/><rect class="r" x="943" y="598" width="4" height="14"/>
<rect class="r" x="892" y="686" width="13" height="4"/><rect class="r" x="892" y="695" width="13" height="4"/><rect class="r" x="892" y="705" width="13" height="4"/><rect class="r" x="892" y="715" width="13" height="4"/><rect class="r" x="938" y="753" width="13" height="4"/><rect class="r" x="699" y="630" width="13" height="4"/>
<rect class="r" x="962" y="590" width="13" height="4"/><rect class="r" x="962" y="599" width="13" height="4"/><rect class="r" x="983" y="548" width="4" height="14"/><rect class="r" x="992" y="548" width="4" height="14"/>
<rect class="r" x="1045" y="555" width="4" height="14"/><rect class="r" x="1054" y="555" width="4" height="14"/><rect class="r" x="1073" y="555" width="4" height="14"/><rect class="r" x="1082" y="555" width="4" height="14"/>
<rect class="r" x="1036" y="582" width="4" height="10"/><rect class="r" x="1045" y="582" width="4" height="10"/><rect class="r" x="1054" y="582" width="4" height="10"/><rect class="r" x="1064" y="582" width="4" height="10"/><rect class="r" x="1073" y="582" width="4" height="10"/><rect class="r" x="1082" y="582" width="4" height="10"/><rect class="r" x="1091" y="582" width="4" height="10"/><rect class="r" x="1100" y="582" width="4" height="10"/><rect class="r" x="1110" y="582" width="4" height="10"/>
<rect class="r" x="998" y="888" width="4" height="12"/><rect class="r" x="1007" y="888" width="4" height="12"/><rect class="r" x="1016" y="888" width="4" height="12"/><rect class="r" x="1033" y="888" width="4" height="12"/><rect class="r" x="1041" y="888" width="4" height="12"/><rect class="r" x="1050" y="888" width="4" height="12"/><rect class="r" x="1059" y="888" width="4" height="12"/><rect class="r" x="1067" y="888" width="4" height="12"/><rect class="r" x="1076" y="888" width="4" height="12"/>
<rect class="r" x="956" y="853" width="13" height="4"/><rect class="r" x="956" y="866" width="13" height="4"/><rect class="r" x="956" y="876" width="13" height="4"/>
<rect class="r" x="962" y="528" width="13" height="4"/>
</g>
<circle cx="1035" cy="863" r="2.5" class="kf"/><circle cx="1043" cy="863" r="2.5" class="kf"/><circle cx="1061" cy="863" r="2.5" class="kf"/><circle cx="1069" cy="863" r="2.5" class="kf"/><circle cx="1078" cy="863" r="2.5" class="kf"/>
<circle cx="945" cy="707" r="2.5" class="kf"/><circle cx="697" cy="652" r="2.5" class="kf"/><circle cx="1062" cy="538" r="2.5" class="kf"/>
<path class="k" d="M968,627L978,617H1130 M968,627V835H1130"/>
<g class="bk">
<path d="M946,627L952,630L946,633Z M946,637L952,640L946,643Z M946,646L952,649L946,652Z M946,656L952,659L946,662Z M946,666L952,669L946,672Z M946,685L952,688L946,691Z M946,733L952,736L946,739Z M946,752L952,755L946,758Z M946,771L952,774L946,777Z M946,781L952,784L946,787Z M946,791L952,794L946,797Z M952,800L946,803L952,806Z M952,810L946,813L952,816Z"/>
<path d="M1005,611L1008,604L1011,611Z M1017,611L1020,604L1023,611Z M1026,611L1029,604L1032,611Z M1035,611L1038,604L1041,611Z M1063,611L1066,604L1069,611Z M1090,611L1093,604L1096,611Z M1118,611L1121,604L1124,611Z M1044,604L1047,611L1050,604Z M1072,604L1075,611L1078,604Z M1100,604L1103,611L1106,604Z M1109,604L1112,611L1115,604Z"/>
<path d="M997,851L1000,858L1003,851Z M1015,851L1018,858L1021,851Z M1023,858L1026,851L1029,858Z M1040,869L1043,876L1046,869Z M1058,869L1061,876L1064,869Z M1075,869L1078,876L1081,869Z M1084,851L1087,858L1090,851Z M1092,851L1095,858L1098,851Z M1101,851L1104,858L1107,851Z M1066,869L1069,862L1072,869Z"/>
</g>
<g class="n">
<text x="964" y="633" font-size="8" text-anchor="end">1</text><text x="964" y="643" font-size="8" text-anchor="end">2</text><text x="964" y="652" font-size="8" text-anchor="end">3</text><text x="964" y="662" font-size="8" text-anchor="end">4</text><text x="964" y="672" font-size="8" text-anchor="end">5</text><text x="964" y="681" font-size="8" text-anchor="end">6</text><text x="964" y="691" font-size="8" text-anchor="end">7</text><text x="964" y="700" font-size="8" text-anchor="end">8</text><text x="964" y="710" font-size="8" text-anchor="end">9</text><text x="966" y="720" font-size="8" text-anchor="end">10</text><text x="966" y="729" font-size="8" text-anchor="end">11</text><text x="966" y="739" font-size="8" text-anchor="end">12</text><text x="966" y="749" font-size="8" text-anchor="end">13</text><text x="966" y="758" font-size="8" text-anchor="end">14</text><text x="966" y="768" font-size="8" text-anchor="end">15</text><text x="966" y="777" font-size="8" text-anchor="end">16</text><text x="966" y="787" font-size="8" text-anchor="end">17</text><text x="966" y="797" font-size="8" text-anchor="end">18</text><text x="966" y="806" font-size="8" text-anchor="end">19</text><text x="966" y="816" font-size="8" text-anchor="end">20</text>
<text x="979" y="614" font-size="8">80</text><text x="988" y="614" font-size="8">79</text><text x="997" y="614" font-size="8">78</text><text x="1006" y="614" font-size="8">77</text><text x="1016" y="614" font-size="8">76</text><text x="1025" y="614" font-size="8">75</text><text x="1034" y="614" font-size="8">74</text><text x="1043" y="614" font-size="8">73</text><text x="1052" y="614" font-size="8">72</text><text x="1062" y="614" font-size="8">71</text><text x="1071" y="614" font-size="8">70</text><text x="1080" y="614" font-size="8">69</text><text x="1089" y="614" font-size="8">68</text><text x="1098" y="614" font-size="8">67</text><text x="1108" y="614" font-size="8">66</text><text x="1117" y="614" font-size="8">65</text>
<text x="979" y="846" font-size="8">21</text><text x="988" y="846" font-size="8">22</text><text x="996" y="846" font-size="8">23</text><text x="1005" y="846" font-size="8">24</text><text x="1014" y="846" font-size="8">25</text><text x="1022" y="846" font-size="8">26</text><text x="1031" y="846" font-size="8">27</text><text x="1039" y="846" font-size="8">28</text><text x="1048" y="846" font-size="8">29</text><text x="1057" y="846" font-size="8">30</text><text x="1065" y="846" font-size="8">31</text><text x="1074" y="846" font-size="8">32</text><text x="1082" y="846" font-size="8">33</text><text x="1091" y="846" font-size="8">34</text><text x="1100" y="846" font-size="8">35</text><text x="1108" y="846" font-size="8">36</text>
</g>
<g class="s">
<text x="971" y="632">DSPCK12</text><text x="971" y="642">VCS2</text><text x="971" y="651">VCS1</text><text x="971" y="661">VDT</text><text x="971" y="671">VCK</text><text x="971" y="680">CNVSS</text><text x="971" y="690">MODELO</text><text x="971" y="699">PON</text><text x="971" y="709">RESET</text><text x="971" y="719">XOUT</text><text x="971" y="728">VSS</text><text x="971" y="738">XIN</text><text x="971" y="748">VCC</text><text x="971" y="757">MUT</text><text x="971" y="767">SPEED</text><text x="971" y="776">BUSON</text><text x="971" y="786">ASENS</text><text x="971" y="796">AVCINT</text><text x="971" y="805">DSPCHIP</text><text x="971" y="815">AVCPW</text>
<text x="824" y="628">DCK1</text><text x="824" y="638">VCS2</text><text x="824" y="647">VCS1</text><text x="824" y="657">VDT</text><text x="824" y="667">VCK</text><text x="824" y="686">SIMUO</text><text x="824" y="695">PON</text><text x="824" y="772">SPO1</text><text x="824" y="782">DSCK</text><text x="824" y="792">ASCK</text><text x="824" y="811">AVCP</text><text x="824" y="530">SWVDD</text><text x="823" y="545">VD5</text>
<text x="892" y="684">R104 1K</text><text x="892" y="693">R107 1K</text><text x="892" y="703">R108 1K</text><text x="892" y="713">R109 680</text><text x="912" y="707">RESET</text><text x="856" y="744">C105 R01</text><text x="938" y="751">R118</text><text x="700" y="628">R101</text><text x="962" y="588">R169 10K</text><text x="962" y="607">R161 10K</text><text x="962" y="526">R158 47K</text>
<text x="850" y="853">R115 487K</text><text x="850" y="866">R119 10K</text><text x="850" y="876">R120 10K</text>
<text transform="translate(862,628) rotate(-90)">R113 100K</text><text transform="translate(872,628) rotate(-90)">R112 100K</text><text transform="translate(882,628) rotate(-90)">R111 1K</text><text transform="translate(892,628) rotate(-90)">R114 1K</text><text transform="translate(919,628) rotate(-90)">R105 10K</text><text transform="translate(929,628) rotate(-90)">C107 R01</text><text transform="translate(938,628) rotate(-90)">C106 R01</text><text transform="translate(948,628) rotate(-90)">R103 47K</text>
<text transform="translate(987,575) rotate(-90)">R160 1K</text><text transform="translate(996,575) rotate(-90)">R168 1K</text><text transform="translate(1013,610) rotate(-90)">C104 R01</text><text transform="translate(1049,580) rotate(-90)">R171 47K</text><text transform="translate(1058,580) rotate(-90)">R173 47K</text><text transform="translate(1077,580) rotate(-90)">R177 47K</text><text transform="translate(1086,580) rotate(-90)">R170 47K</text><text transform="translate(1060,550) rotate(-90)">CNASL1</text>
<text transform="translate(987,538) rotate(-90)">DIN1</text><text transform="translate(996,538) rotate(-90)">DOT1</text><text transform="translate(1042,538) rotate(-90)">SMUT</text><text transform="translate(1069,538) rotate(-90)">ASL1</text><text transform="translate(1078,538) rotate(-90)">SDY1</text><text transform="translate(1087,540) rotate(-90)">SBDY1</text><text transform="translate(1096,540) rotate(-90)">DBSY</text><text transform="translate(1105,538) rotate(-90)">SDY2</text><text transform="translate(1115,540) rotate(-90)">SBDY2</text><text transform="translate(1124,538) rotate(-90)">DRO2</text>
<text transform="translate(986,648) rotate(-90)">DSPOUT1</text><text transform="translate(995,648) rotate(-90)">DSPINT</text><text transform="translate(1004,640) rotate(-90)">AVCC</text><text transform="translate(1013,640) rotate(-90)">VREF</text><text transform="translate(1022,640) rotate(-90)">SMUTE</text><text transform="translate(1031,640) rotate(-90)">AVSS</text><text transform="translate(1041,640) rotate(-90)">ASLIN</text><text transform="translate(1050,640) rotate(-90)">RDY1</text><text transform="translate(1059,648) rotate(-90)">DSCRDY1</text><text transform="translate(1068,640) rotate(-90)">DBSY</text><text transform="translate(1078,640) rotate(-90)">RDY2</text><text transform="translate(1087,648) rotate(-90)">DSCRDY2</text><text transform="translate(1096,640) rotate(-90)">DRO2</text><text transform="translate(1105,640) rotate(-90)">DRST</text><text transform="translate(1114,640) rotate(-90)">SYSPW</text>
<text transform="translate(986,832) rotate(-90)">BEEP</text><text transform="translate(995,832) rotate(-90)">AVCIN</text><text transform="translate(1003,832) rotate(-90)">AVCOUT</text><text transform="translate(1012,832) rotate(-90)">DSPOUT2</text><text transform="translate(1021,832) rotate(-90)">DSPIN2</text><text transform="translate(1029,832) rotate(-90)">DSPCK2</text><text transform="translate(1038,832) rotate(-90)">TESTIN</text><text transform="translate(1046,832) rotate(-90)">TSOUT</text><text transform="translate(1055,832) rotate(-90)">TSIN</text><text transform="translate(1064,832) rotate(-90)">TSCK</text><text transform="translate(1072,832) rotate(-90)">SMUTEIN</text><text transform="translate(1081,832) rotate(-90)">DACCSN</text><text transform="translate(1089,832) rotate(-90)">DACCLK</text><text transform="translate(1098,832) rotate(-90)">DACDT1</text>
<text transform="translate(986,928) rotate(-90)">BEEP</text><text transform="translate(995,928) rotate(-90)">AVCI</text><text transform="translate(1003,928) rotate(-90)">AVCO</text><text transform="translate(1012,928) rotate(-90)">DIN2</text><text transform="translate(1021,928) rotate(-90)">DOT2</text><text transform="translate(1029,928) rotate(-90)">DCK2</text><text transform="translate(1072,928) rotate(-90)">SMUT</text><text transform="translate(1081,928) rotate(-90)">DACCSN</text><text transform="translate(1089,928) rotate(-90)">DACCLK</text><text transform="translate(1098,928) rotate(-90)">DACDT1</text>
</g>
<text class="T" x="1018" y="688" font-size="20" textLength="122" lengthAdjust="spacingAndGlyphs">SYSTEM u-CC</text>
<text class="T" x="1050" y="716" font-size="18" textLength="68" lengthAdjust="spacingAndGlyphs">IC101</text>
<text class="T" x="1036" y="740" font-size="28" textLength="115" lengthAdjust="spacingAndGlyphs">PD5769</text>
<text class="T" x="839" y="903" font-size="11">DGND</text>

<!-- ============ ASL ============ -->
<path class="w" d="M288,616H648V864H542 M288,616V763 M465,625H638V763 M303,616V788 M323,616V788 M342,616V700 M365,616V708 M288,788H648 M365,658H457 M437,620V722 M457,658V722 M508,643H607V696 M567,658H610 M542,668H610 M542,668V864 M398,768H510V643 M398,657V810H463 M442,780V835H480 M477,780V830 M608,737V864 M342,700H380 M288,721H336 M342,706V716 M342,726V788 M567,864V930 M575,864V930 M585,864V930 M595,864V930 M497,681H520V700 M497,697H520 M485,740H508 M580,790H600 M275,759H288"/>
<path class="k" d="M475,778H648" stroke-width="1.5"/>
<rect class="kf" x="437" y="722" width="48" height="37"/>
<rect class="k" x="580" y="696" width="48" height="41" stroke="#666"/>
<path class="k" d="M450,727L466,737L450,747Z M460,737L476,746L460,755Z M592,702L608,712L592,722Z M598,716L614,726L598,736Z"/>
<path class="k" d="M336,714V728 M336,718L344,712 M336,724L344,730"/>
<g>
<rect class="r" x="301" y="630" width="4" height="14"/><rect class="r" x="321" y="630" width="4" height="14"/><rect class="r" x="340" y="630" width="4" height="14"/><rect class="r" x="363" y="627" width="4" height="14"/><rect class="r" x="361" y="650" width="8" height="20"/><rect class="r" x="363" y="678" width="4" height="14"/><rect class="r" x="321" y="745" width="4" height="14"/><rect class="r" x="340" y="745" width="4" height="14"/><rect class="r" x="435" y="622" width="4" height="14"/><rect class="r" x="435" y="640" width="4" height="12"/><rect class="r" x="405" y="656" width="13" height="4"/><rect class="r" x="475" y="650" width="13" height="4"/><rect class="r" x="522" y="641" width="13" height="4"/><rect class="r" x="556" y="641" width="13" height="4"/><rect class="r" x="585" y="641" width="13" height="4"/><rect class="r" x="480" y="623" width="13" height="4"/><rect class="r" x="455" y="791" width="13" height="4"/><rect class="r" x="475" y="820" width="4" height="12"/><rect class="r" x="606" y="800" width="4" height="14"/><rect class="r" x="538" y="715" width="4" height="14"/><rect class="r" x="580" y="742" width="13" height="4"/></g>
<path class="k" d="M368,655H378M368,658H378 M395,653V663M398,653V663 M296,719V725M299,719V725 M356,697V703M359,697V703 M500,677V685M503,677V685 M580,655V661M583,655V661 M580,665V671M583,665V671 M603,655V663M606,655V663 M547,705H555M547,708H555 M600,785H608M600,788H608 M298,628H306M298,631H306 M455,800V808M458,800V808 M475,797H483M475,800H483 M604,840H612M604,843H612 M420,807L428,810L420,813Z M428,807V813"/>
<circle cx="274" cy="721" r="3" class="kf"/><circle cx="274" cy="731" r="3" class="kf"/><circle cx="279" cy="769" r="6" class="k"/><path class="k" d="M273,763V775" stroke-width="2"/>
<circle cx="288" cy="797" r="2.5" class="kf"/><circle cx="295" cy="797" r="2.5" class="kf"/><circle cx="380" cy="702" r="3" class="kf"/><circle cx="422" cy="643" r="3" class="kf"/><circle cx="487" cy="810" r="3" class="kf"/>
<path class="k" d="M338,792H346M339,795H345M340,798H344"/>
<text class="T" x="288" y="857" font-size="30" textLength="55" lengthAdjust="spacingAndGlyphs">ASL</text>
<g class="s">
<text x="265" y="717">MICA</text><text x="265" y="738">MICB</text><text x="265" y="757">MIC401</text><text x="266" y="781">CPM1011</text><text x="269" y="802">GNDA</text><text x="298" y="802">GNDB</text><text x="334" y="805">DGND</text>
<text x="303" y="717">C402</text><text x="305" y="729">47/16</text><text x="343" y="717">Q401</text><text x="343" y="723">2SC4081</text><text x="345" y="697">C403</text><text x="343" y="709">560/16</text><text x="377" y="712">ADJ</text>
<text x="374" y="652">C404</text><text x="374" y="665">10/50</text><text x="403" y="653">R418</text><text x="405" y="665">5R6K</text><text x="416" y="639">SYS4</text><text x="460" y="661">4.5V</text>
<text x="470" y="623">R415</text><text x="474" y="633">10K</text><text x="518" y="640">R409</text><text x="518" y="651">487K</text><text x="553" y="640">R410</text><text x="553" y="651">487K</text><text x="582" y="638">R411  47K</text><text x="570" y="655">C415 R022</text><text x="572" y="672">C405 R047</text>
<text x="470" y="648">C414  R01</text><text x="472" y="660">R420</text><text x="477" y="672">20K</text><text x="546" y="760">C416</text><text x="546" y="771">R047</text><text x="578" y="740">R413 15K</text><text x="573" y="764">C412 10/16</text>
<text x="488" y="795">R407</text><text x="487" y="804">560K</text><text x="458" y="818">C406</text><text x="466" y="828">100P</text><text x="408" y="815">D402</text><text x="405" y="828">1SS355</text><text x="491" y="812">LPFO</text>
<text x="612" y="861">DC=8.2V</text><text x="527" y="892" font-size="8">CN403</text><text x="524" y="941" font-size="8">CN404</text>
<text transform="translate(300,660) rotate(-90)">R401</text><text transform="translate(320,655) rotate(-90)">R402 10K</text><text transform="translate(339,655) rotate(-90)">R404 82K</text><text transform="translate(362,645) rotate(-90)">R417 100</text><text transform="translate(372,680) rotate(-90)">VR401</text><text transform="translate(362,700) rotate(-90)">R416</text><text transform="translate(320,765) rotate(-90)">R403 18K</text><text transform="translate(339,765) rotate(-90)">R405 470</text><text transform="translate(434,640) rotate(-90)">R406 270</text><text transform="translate(444,745) rotate(-90)">IC401 NJM4580MD</text><text transform="translate(636,740) rotate(-90)">IC402</text><text transform="translate(537,732) rotate(-90)">C409 10/50</text><text transform="translate(605,840) rotate(-90)">R414 10K</text><text transform="translate(602,862) rotate(-90)">C413 10/16</text><text transform="translate(566,885) rotate(-90)">TPGND</text><text transform="translate(577,885) rotate(-90)">SYS8</text><text transform="translate(587,885) rotate(-90)">ASL1</text><text transform="translate(597,885) rotate(-90)">CNASL1</text>
</g>
<!-- connectors -->
<rect class="kf" x="560" y="892" width="42" height="8" rx="4"/>
<rect class="kf" x="560" y="925" width="42" height="8" rx="4"/>
<g class="s"><text x="567" y="898">4</text><text x="575" y="898">3</text><text x="585" y="898">2</text><text x="593" y="898">1</text><text x="567" y="931">1</text><text x="575" y="931">2</text><text x="585" y="931">3</text><text x="593" y="931">4</text></g>
<path class="w" d="M567,933V965 M575,933V965 M585,933V965 M595,933V965"/>
<circle cx="557" cy="938" r="2.5" class="kf"/><circle cx="595" cy="940" r="2.5" class="kf"/><circle cx="602" cy="940" r="2.5" class="kf"/><circle cx="559" cy="886" r="2.5" class="kf"/><circle cx="591" cy="886" r="2.5" class="kf"/>
<g class="s"><text transform="translate(557,960) rotate(-90)">TPGND</text><text transform="translate(572,962) rotate(-90)">GND</text><text transform="translate(582,962) rotate(-90)">SYS8</text><text transform="translate(592,962) rotate(-90)">TPASL1N</text><text transform="translate(600,962) rotate(-90)">TPASL1</text></g>

<!-- ============ bottom-left amps ============ -->
<path class="w" d="M265,1017H600 M265,1041H455 M423,1032H467V1061 M423,977V1252 M265,1080H433V1052H513V1108 M265,1118H455 M265,1142H600 M485,1108H600 M341,1017V1142 M356,1017V1142 M482,1017V1061 M455,1041V1061 M455,1118V1099 M437,1128H500V1099 M513,1017V1108 M265,1228H600 M265,1252H423 M341,1228V1290 M356,1228V1290 M265,1290H433 M433,1262H513V1319H433Z M513,1319H600 M482,1228V1272 M467,1252V1272 M482,1240H513V1272 M467,1099V1142 M423,1252H467"/>
<rect class="kf" x="447" y="1061" width="48" height="38"/>
<rect class="kf" x="447" y="1272" width="48" height="38"/>
<path class="k" d="M459,1066L475,1076L459,1086Z M467,1078L483,1087L467,1096Z M459,1277L475,1287L459,1297Z M467,1289L483,1298L467,1307Z"/>
<g>
<rect class="r" x="323" y="1015" width="13" height="4"/><rect class="r" x="393" y="1015" width="13" height="4"/><rect class="r" x="525" y="1015" width="14" height="4"/>
<rect class="r" x="323" y="1039" width="13" height="4"/><rect class="r" x="393" y="1039" width="13" height="4"/>
<rect class="r" x="323" y="1116" width="13" height="4"/><rect class="r" x="393" y="1116" width="13" height="4"/>
<rect class="r" x="323" y="1140" width="13" height="4"/><rect class="r" x="393" y="1140" width="13" height="4"/><rect class="r" x="525" y="1140" width="14" height="4"/>
<rect class="r" x="437" y="1030" width="13" height="4"/><rect class="r" x="485" y="1030" width="13" height="4"/><rect class="r" x="437" y="1126" width="13" height="4"/><rect class="r" x="477" y="1126" width="13" height="4"/>
<rect class="r" x="339" y="1057" width="4" height="13"/><rect class="r" x="354" y="1057" width="4" height="13"/><rect class="r" x="339" y="1093" width="4" height="13"/><rect class="r" x="354" y="1093" width="4" height="13"/>
<rect class="r" x="323" y="1226" width="13" height="4"/><rect class="r" x="393" y="1226" width="13" height="4"/><rect class="r" x="525" y="1226" width="14" height="4"/>
<rect class="r" x="323" y="1250" width="13" height="4"/><rect class="r" x="393" y="1250" width="13" height="4"/><rect class="r" x="487" y="1238" width="13" height="4"/>
<rect class="r" x="339" y="1262" width="4" height="13"/><rect class="r" x="354" y="1262" width="4" height="13"/><rect class="r" x="421" y="1209" width="4" height="13"/>
</g>
<path class="k" d="M371,1013V1021M374,1013V1021 M371,1037V1045M374,1037V1045 M371,1114V1122M374,1114V1122 M371,1138V1146M374,1138V1146 M493,1013V1021M496,1013V1021 M481,1138V1146M484,1138V1146 M371,1224V1232M374,1224V1232 M371,1248V1256M374,1248V1256 M493,1224V1232M496,1224V1232 M509,1075H517M509,1078H517 M509,1286H517M509,1289H517"/>
<path class="ra" d="M-6,-2H-1V-4L4,0L-1,4V2H-6Z" transform="translate(302,1017)"/>
<path class="ra" d="M-6,-2H-1V-4L4,0L-1,4V2H-6Z" transform="translate(302,1041)"/>
<path class="ra" d="M-6,-2H-1V-4L4,0L-1,4V2H-6Z" transform="translate(570,1017)"/>
<path class="ra" d="M-6,-2H-1V-4L4,0L-1,4V2H-6Z" transform="translate(632,1052)"/>
<path class="bk" d="M298,1225L306,1228L298,1231Z M565,1225L573,1228L565,1231Z M633,1005L641,1008L633,1011Z"/>
<g class="s">
<text x="270" y="1015">LINP</text><text x="268" y="1032">+0.2dB</text><text x="270" y="1039">LINN</text><text x="270" y="1078">GND(S)</text><text x="270" y="1116">RINN</text><text x="270" y="1140">RINP</text>
<text x="323" y="1013">R505</text><text x="325" y="1024">10K</text><text x="366" y="1013">C503</text><text x="366" y="1024">4R7/50</text><text x="394" y="1013">R509</text><text x="396" y="1024">47K</text><text x="487" y="1013">C505</text><text x="489" y="1024">22P</text><text x="527" y="1013">R517</text><text x="529" y="1024">100</text><text x="512" y="1030">-3.5dB</text>
<text x="323" y="1037">R501</text><text x="325" y="1048">10K</text><text x="366" y="1037">C501</text><text x="366" y="1048">4R7/50</text><text x="394" y="1037">R511</text><text x="396" y="1048">47K</text><text x="438" y="1028">R513</text><text x="440" y="1039">47K</text><text x="487" y="1028">R515</text><text x="489" y="1039">47K</text>
<text x="323" y="1114">R502</text><text x="325" y="1125">10K</text><text x="366" y="1114">C502</text><text x="366" y="1125">4R7/50</text><text x="394" y="1114">R512</text><text x="396" y="1125">47K</text><text x="438" y="1124">R514</text><text x="440" y="1135">47K</text><text x="478" y="1124">R516</text><text x="480" y="1135">47K</text>
<text x="323" y="1138">R504</text><text x="325" y="1149">10K</text><text x="366" y="1138">C504</text><text x="366" y="1149">4R7/50</text><text x="394" y="1138">R510</text><text x="396" y="1149">47K</text><text x="477" y="1138">C506</text><text x="479" y="1149">22P</text><text x="527" y="1138">R518</text><text x="529" y="1149">100</text>
<text x="582" y="1106">SYS8</text><text x="570" y="1113">DC=8.2V</text><text x="584" y="1140">ROUT</text><text x="584" y="1015">LOUT</text>
<text x="270" y="1226">INT11N</text><text x="270" y="1250">INT11P</text><text x="270" y="1288">GND(S)</text>
<text x="323" y="1224">R540</text><text x="325" y="1235">560K</text><text x="366" y="1224">C640</text><text x="366" y="1235">4R7/50</text><text x="394" y="1224">R548</text><text x="396" y="1235">12K</text><text x="487" y="1224">C644</text><text x="489" y="1235">100P</text><text x="527" y="1224">R554</text><text x="529" y="1235">100</text><text x="580" y="1226">INT1C</text>
<text x="323" y="1248">R541</text><text x="325" y="1259">560K</text><text x="366" y="1248">C641</text><text x="366" y="1259">4R7/50</text><text x="394" y="1248">R549</text><text x="396" y="1259">12K</text><text x="487" y="1236">R552</text><text x="489" y="1247">20K</text>
<text x="582" y="1317">SYS8</text><text x="570" y="1324">DC=8.2V</text>
<text transform="translate(338,1072) rotate(-90)">R503</text><text transform="translate(353,1072) rotate(-90)">R507</text><text transform="translate(338,1108) rotate(-90)">R506</text><text transform="translate(353,1108) rotate(-90)">R508</text><text transform="translate(338,1278) rotate(-90)">R544</text><text transform="translate(353,1278) rotate(-90)">R545</text><text transform="translate(420,1225) rotate(-90)">R551 10K</text>
<text transform="translate(444,1098) rotate(-90)">IC501 NJM4580MD</text><text transform="translate(444,1310) rotate(-90)">IC548 NJM4580MD</text><text transform="translate(522,1085) rotate(-90)">C507 R047</text><text transform="translate(522,1296) rotate(-90)">C548 R047</text><text transform="translate(420,1008) rotate(-90)">DC=5.5V</text><text transform="translate(426,975) rotate(-90)">SYS8</text>
</g>
<text class="m" x="289" y="1363" font-size="6.5" textLength="138" lengthAdjust="spacingAndGlyphs">SOUND LEVEL FL·FR·RL·RR·CTR = 1KHz</text>
<text class="m" x="387" y="1370" font-size="6.5">WF = 50Hz</text>
<text class="m" x="363" y="1377" font-size="6.5" textLength="65" lengthAdjust="spacingAndGlyphs">AMP INPUT=-8.2dBs</text>

<!-- ============ bottom-right (BEEP MIX etc.) ============ -->
<text class="T" x="640" y="999" font-size="12" textLength="45" lengthAdjust="spacingAndGlyphs">BEEP_MIX</text>
<path class="w" d="M600,1008H871V1118 M600,1041H871 M600,1052H816 M600,1118H816 M843,1118H886 M801,1137H918V1042 M703,1152H835V1008 M600,1171H760 M600,1204H760 M600,1238H946V1099 M684,1262H932V1079 M600,1286H684V1319 M703,1286H918V1319 M932,1262V1300H1101 M600,1319H703V1008 M918,1319H1101 M1003,1280H1101 M1003,1280V1338 M918,1338H1101 M918,1338V1377H801 M600,1352H816 M1044,1357H1101 M1044,1061V1400 M833,1023H1101 M918,1042H1101 M871,1061H1101 M932,1079H1101 M946,1099H1101 M1044,1118H1101 M1028,1137H1101 M1028,1376H1101 M1028,1395H1101 M741,967V1353 M886,967V1353 M760,1041V1204 M778,1008V1160 M778,1238V1392 M801,1377V1343 M801,1137V1100 M971,1204H1127 M995,1228H1040 M985,1250H1080 M950,1240V1390 M1028,1117V1137 M1028,1370V1395 M955,1117H1000 M955,1370H1000"/>
<path class="k" d="M741,967L748,958 M886,967L893,958"/>
<rect class="kf" x="807" y="1061" width="46" height="39"/><rect class="kf" x="807" y="1305" width="46" height="38"/>
<path class="k" d="M820,1066L836,1076L820,1086Z M828,1078L844,1087L828,1096Z M820,1310L836,1320L820,1330Z M828,1322L844,1331L828,1340Z"/>
<path class="w" d="M1127,1013H1101V1147H1127 M1127,1272H1101V1405H1127"/>
<g>
<rect class="r" x="750" y="1006" width="13" height="4"/><rect class="r" x="657" y="1050" width="13" height="4"/><rect class="r" x="657" y="1116" width="13" height="4"/><rect class="r" x="657" y="1169" width="13" height="4"/><rect class="r" x="657" y="1236" width="13" height="4"/><rect class="r" x="657" y="1284" width="13" height="4"/><rect class="r" x="657" y="1350" width="13" height="4"/>
<rect class="r" x="845" y="1021" width="13" height="4"/><rect class="r" x="894" y="1021" width="13" height="4"/><rect class="r" x="894" y="1135" width="13" height="4"/><rect class="r" x="894" y="1375" width="13" height="4"/><rect class="r" x="812" y="1135" width="13" height="4"/><rect class="r" x="812" y="1375" width="13" height="4"/><rect class="r" x="750" y="1150" width="13" height="4"/>
<rect class="r" x="758" y="1070" width="4" height="13"/><rect class="r" x="758" y="1110" width="4" height="13"/><rect class="r" x="776" y="1025" width="4" height="13"/><rect class="r" x="776" y="1140" width="4" height="13"/><rect class="r" x="758" y="1183" width="4" height="13"/><rect class="r" x="758" y="1218" width="4" height="13"/><rect class="r" x="758" y="1330" width="4" height="13"/><rect class="r" x="776" y="1360" width="4" height="13"/><rect class="r" x="682" y="1295" width="4" height="13"/><rect class="r" x="682" y="1012" width="4" height="13"/>
<rect class="r" x="958" y="1115" width="13" height="4"/><rect class="r" x="1008" y="1110" width="13" height="4"/><rect class="r" x="958" y="1368" width="13" height="4"/><rect class="r" x="1008" y="1363" width="13" height="4"/><rect class="r" x="1005" y="1202" width="13" height="4"/><rect class="r" x="1005" y="1226" width="13" height="4"/><rect class="r" x="1005" y="1248" width="13" height="4"/>
</g>
<path class="k" d="M1063,1019V1027M1066,1019V1027 M1063,1038V1046M1066,1038V1046 M1063,1075V1083M1066,1075V1083 M1063,1095V1103M1066,1095V1103 M1063,1114V1122M1066,1114V1122 M1063,1133V1141M1066,1133V1141 M1063,1276V1284M1066,1276V1284 M1063,1296V1304M1066,1296V1304 M1063,1334V1342M1066,1334V1342 M1063,1353V1361M1066,1353V1361 M1063,1372V1380M1066,1372V1380 M1063,1391V1399M1066,1391V1399 M645,1004V1012M648,1004V1012 M852,1004V1012M855,1004V1012 M850,1148V1156M853,1148V1156 M844,1080H852M844,1083H852 M844,1320H852M844,1323H852 M850,1374V1382M853,1374V1382 M670,1012H678M670,1015H678 M739,1320H747M739,1323H747"/>
<path class="k" d="M1000,1110V1124 M1000,1114L1008,1108 M1000,1120L1008,1126 M1000,1363V1377 M1000,1367L1008,1361 M1000,1373L1008,1379 M970,1218V1232 M970,1222L962,1216 M970,1228L962,1234"/>
<circle cx="696" cy="1004" r="2.5" class="kf"/><circle cx="778" cy="1004" r="2.5" class="kf"/><circle cx="778" cy="1160" r="2.5" class="kf"/><circle cx="1030" cy="1117" r="2.5" class="kf"/><circle cx="1030" cy="1371" r="2.5" class="kf"/><circle cx="979" cy="1200" r="2.5" class="kf"/><circle cx="995" cy="1218" r="2.5" class="kf"/><circle cx="1033" cy="1251" r="2.5" class="kf"/>
<path class="ra" d="M-6,-2H-1V-4L4,0L-1,4V2H-6Z" transform="translate(973,1023)"/>
<path class="ra" d="M-6,-2H-1V-4L4,0L-1,4V2H-6Z" transform="translate(844,1056) rotate(-90)"/>
<g class="n" font-size="8">
<text x="1088" y="1023" font-size="8">15</text><text x="1088" y="1043" font-size="8">14</text><text x="1088" y="1062" font-size="8">13</text><text x="1088" y="1081" font-size="8">12</text><text x="1088" y="1101" font-size="8">11</text><text x="1088" y="1120" font-size="8">16</text><text x="1088" y="1139" font-size="8">10</text>
<text x="1088" y="1283" font-size="8">15</text><text x="1088" y="1303" font-size="8">14</text><text x="1088" y="1322" font-size="8">13</text><text x="1088" y="1341" font-size="8">12</text><text x="1088" y="1360" font-size="8">11</text><text x="1088" y="1379" font-size="8">16</text><text x="1088" y="1398" font-size="8">10</text>
</g>
<g class="s">
<text x="1103" y="1024">SGLIN</text><text x="1103" y="1044">SRIN</text><text x="1103" y="1063">SGND</text><text x="1103" y="1082">SLIN</text><text x="1103" y="1102">RRIN</text><text x="1103" y="1121">ACGND</text><text x="1103" y="1140">SVR</text>
<text x="1103" y="1284">WF2IN</text><text x="1103" y="1304">CTRIN</text><text x="1103" y="1323">SGND</text><text x="1103" y="1342">WFIIN</text><text x="1103" y="1361">NO USE</text><text x="1103" y="1380">ACGND</text><text x="1103" y="1399">SVR</text>
<text x="1058" y="1016">C807</text><text x="1058" y="1032">R22</text><text x="1058" y="1036">C813</text><text x="1058" y="1051">R22</text><text x="1058" y="1073">C808</text><text x="1058" y="1089">R22</text><text x="1058" y="1093">C816</text><text x="1058" y="1108">R22</text><text x="1058" y="1112">C815</text><text x="1058" y="1131">C818</text><text x="1058" y="1147">10/50</text>
<text x="1058" y="1274">C803</text><text x="1058" y="1290">R22</text><text x="1058" y="1294">C806</text><text x="1058" y="1309">R22</text><text x="1058" y="1332">C804</text><text x="1058" y="1347">R22</text><text x="1058" y="1351">C805</text><text x="1058" y="1367">R22</text><text x="1058" y="1370">C814</text><text x="1058" y="1389">C817</text><text x="1058" y="1405">10/50</text>
<text x="936" y="1021">-1.5dB (FL-FR)</text><text x="975" y="1077">4.7dB (RL-RR)</text><text x="920" y="1260">3.5dB</text><text x="918" y="1336">-5.5dB</text>
<text x="603" y="1006">BEEP</text><text x="603" y="1039">GND(S)</text><text x="603" y="1050">FLIN</text><text x="603" y="1116">FRIN</text><text x="601" y="1129">-1.6dB (FL-FR)</text><text x="601" y="1152">4.8dB (RL-RR)</text><text x="603" y="1169">RLIN</text><text x="603" y="1202">GND(S)</text><text x="603" y="1236">RRIN</text><text x="603" y="1284">CTRIN</text><text x="601" y="1291">5.6dB</text><text x="603" y="1317">GND(S)</text><text x="603" y="1350">WFIN</text><text x="601" y="1358">-6.1dB</text>
<text x="643" y="1003">C706</text><text x="643" y="1015">R010</text><text x="700" y="1006">BP</text><text x="782" y="1006">BPL</text><text x="750" y="1004">R721</text><text x="752" y="1015">470K</text><text x="845" y="1002">C701</text><text x="847" y="1014">100P</text><text x="845" y="1019">R709</text><text x="847" y="1030">12K</text><text x="894" y="1019">R725</text><text x="896" y="1030">100</text>
<text x="657" y="1048">R731</text><text x="659" y="1059">98.1K</text><text x="657" y="1114">R732</text><text x="659" y="1125">98.1K</text><text x="657" y="1167">R755</text><text x="659" y="1178">100</text><text x="657" y="1234">R754</text><text x="659" y="1245">100</text><text x="657" y="1282">R751</text><text x="659" y="1293">100</text><text x="657" y="1348">R752</text><text x="659" y="1359">98.1K</text>
<text x="812" y="1133">R718</text><text x="814" y="1144">12K</text><text x="812" y="1150">C702</text><text x="814" y="1161">100P</text><text x="894" y="1133">R726</text><text x="896" y="1144">100</text><text x="752" y="1148">R722</text><text x="752" y="1160">470K</text><text x="782" y="1163">BPR</text>
<text x="812" y="1373">R760</text><text x="814" y="1384">10K</text><text x="812" y="1390">C754</text><text x="814" y="1400">R022</text><text x="894" y="1373">R762</text><text x="896" y="1384">100</text>
<text x="955" y="1112">R836</text><text x="955" y="1124">487K</text><text x="1008" y="1107">R837</text><text x="1012" y="1122">27K</text><text x="990" y="1130">Q835</text><text x="985" y="1136">2SC4081</text><text x="1025" y="1128">ACG3</text>
<text x="955" y="1365">R835</text><text x="955" y="1377">487K</text><text x="1008" y="1360">R832</text><text x="1012" y="1374">27K</text><text x="990" y="1383">Q832</text><text x="985" y="1389">2SC4081</text><text x="1025" y="1381">ACG2</text>
<text x="975" y="1195">ICUT</text><text x="995" y="1200">R831  267K(1/8W)</text><text x="998" y="1216">LMUT1</text><text x="1005" y="1234">R830  100K</text><text x="1005" y="1247">R839  10K</text><text x="1030" y="1259">LMUT2</text>
<text transform="translate(744,990) rotate(-90)">SYS4</text><text transform="translate(744,1020) rotate(-90)">DC=5.5V</text><text transform="translate(889,990) rotate(-90)">SYS8</text><text transform="translate(889,1020) rotate(-90)">DC=8.2V</text>
<text transform="translate(808,1098) rotate(-90)">IC701 NJM4580MD</text><text transform="translate(808,1342) rotate(-90)">IC751 NJM4580MD</text><text transform="translate(865,1095) rotate(-90)">C700 R047</text><text transform="translate(865,1340) rotate(-90)">C755 R047</text>
<text transform="translate(757,1088) rotate(-90)">R707 22K</text><text transform="translate(757,1125) rotate(-90)">R708 22K</text><text transform="translate(775,1040) rotate(-90)">R705 39K</text><text transform="translate(775,1155) rotate(-90)">R706 39K</text><text transform="translate(757,1198) rotate(-90)">R703 882K</text><text transform="translate(757,1233) rotate(-90)">R704 882K</text><text transform="translate(757,1345) rotate(-90)">R756 22K</text><text transform="translate(775,1375) rotate(-90)">R758 22K</text><text transform="translate(680,1310) rotate(-90)">R753 882K</text><text transform="translate(680,1027) rotate(-90)">C707 R22</text><text transform="translate(689,1027) rotate(-90)">R719 20K</text><text transform="translate(738,1345) rotate(-90)">C752 R01</text>
<text transform="translate(962,1240) rotate(-90)">Q831 2SC4081</text><text transform="translate(1075,1250) rotate(-90)">D831 UDZS10B</text>
</g>
</g>
</svg>
</body></html>
